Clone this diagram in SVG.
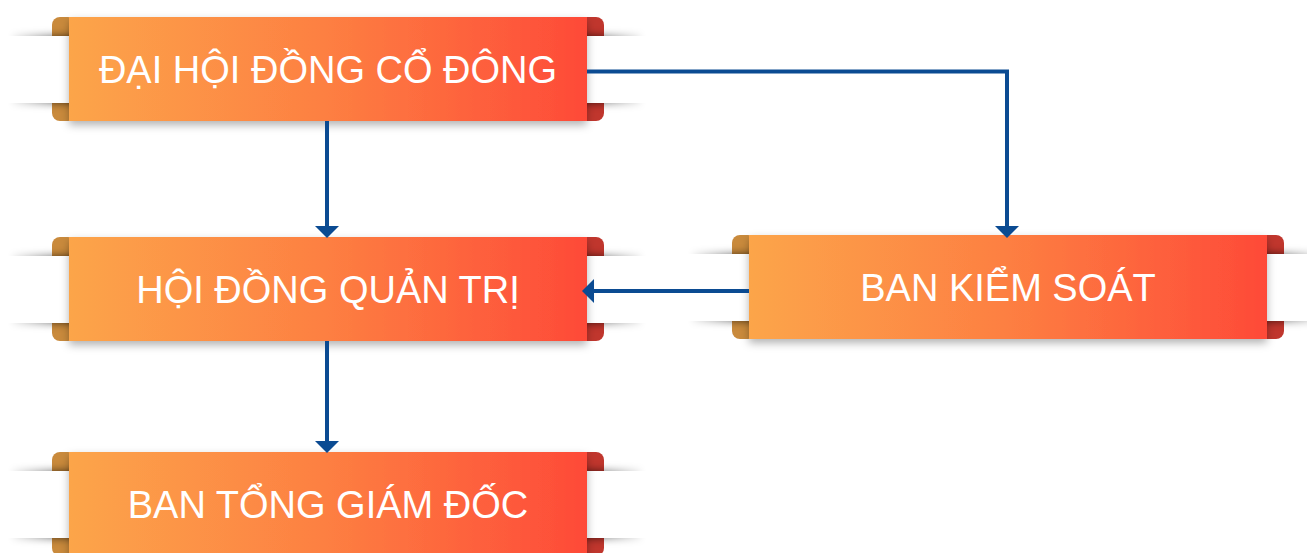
<svg xmlns="http://www.w3.org/2000/svg" xmlns:xlink="http://www.w3.org/1999/xlink" width="1307" height="553" viewBox="0 0 1307 553">
<style>
.lbl{font-family:"Liberation Sans",Arial,sans-serif;font-size:38px;fill:#ffffff;text-anchor:middle}
.conn{fill:none;stroke:#0b4b92;stroke-width:4}
.head{fill:#0b4b92}
</style>
<defs>
<linearGradient id="mainGrad" x1="0" y1="0" x2="1" y2="0">
<stop offset="0" stop-color="#fca54a"/>
<stop offset="0.5" stop-color="#fd7f42"/>
<stop offset="1" stop-color="#fe4a38"/>
</linearGradient>
<linearGradient id="shadowFade" x1="0" y1="0" x2="1" y2="0">
<stop offset="0" stop-color="#fff" stop-opacity="0"/>
<stop offset="0.08" stop-color="#fff" stop-opacity="1"/>
<stop offset="0.92" stop-color="#fff" stop-opacity="1"/>
<stop offset="1" stop-color="#fff" stop-opacity="0"/>
</linearGradient>
<mask id="shadowMask" maskUnits="userSpaceOnUse" x="-70" y="-10" width="660" height="130">
<rect x="-62" y="-10" width="640" height="130" fill="url(#shadowFade)"/>
</mask>
<filter id="stripShadow" x="-0.1" y="-0.5" width="1.2" height="2">
<feGaussianBlur in="SourceAlpha" stdDeviation="4"/>
<feComponentTransfer><feFuncA type="linear" slope="0.65"/></feComponentTransfer>
</filter>
<filter id="mainShadow" x="-0.05" y="-0.2" width="1.1" height="1.5">
<feDropShadow dx="0" dy="4" stdDeviation="4" flood-color="#000" flood-opacity="0.3"/>
</filter>
<g id="band">
<rect x="-17" y="0" width="24" height="104" rx="8" fill="#c98a3c"/>
<rect x="510" y="0" width="25" height="104" rx="8" fill="#c0362d"/>
<g mask="url(#shadowMask)">
<rect x="-60" y="19" width="635" height="67" fill="#000" filter="url(#stripShadow)"/>
</g>
<rect x="-62" y="19" width="640" height="67" fill="#fff"/>
<rect x="0" y="0" width="518" height="104" fill="url(#mainGrad)" filter="url(#mainShadow)"/>
</g>
</defs>
<g id="node-dhdcd" transform="translate(69,17)">
<use xlink:href="#band"/>
<text class="lbl" x="259" y="66">ĐẠI HỘI ĐỒNG CỔ ĐÔNG</text>
</g>
<g id="node-hdqt" transform="translate(69,237)">
<use xlink:href="#band"/>
<text class="lbl" x="259" y="66">HỘI ĐỒNG QUẢN TRỊ</text>
</g>
<g id="node-btgd" transform="translate(69,452)">
<use xlink:href="#band"/>
<text class="lbl" x="259" y="66">BAN TỔNG GIÁM ĐỐC</text>
</g>
<g id="node-bks" transform="translate(749,235)">
<use xlink:href="#band"/>
<text class="lbl" x="259" y="66">BAN KIỂM SOÁT</text>
</g>
<g id="connectors">
<polyline class="conn" points="587,71.5 1007,71.5 1007,226"/>
<line class="conn" x1="327" y1="121" x2="327" y2="226"/>
<line class="conn" x1="749" y1="291" x2="594" y2="291"/>
<line class="conn" x1="327" y1="341" x2="327" y2="441"/>
<path class="head" d="M995,226 L1019,226 L1007,238 Z"/>
<path class="head" d="M315,226 L339,226 L327,238 Z"/>
<path class="head" d="M594,279 L594,303 L582,291 Z"/>
<path class="head" d="M315,441 L339,441 L327,453 Z"/>
</g>
</svg>
